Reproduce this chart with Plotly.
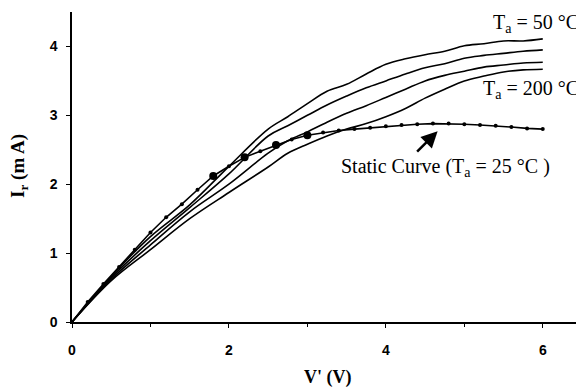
import plotly.graph_objects as go

# Drain voltage (V) sample positions for the pulsed curves
v_pulsed = [0, 0.5, 1.0, 1.5, 2.0, 2.5, 2.75, 3.0, 3.25, 3.5, 3.75, 4.0,
            4.25, 4.5, 4.75, 5.0, 5.25, 5.5, 5.75, 6.0]
i_50 = [0, 0.66, 1.24, 1.70, 2.26, 2.80, 2.98, 3.17, 3.35, 3.45, 3.60, 3.74,
        3.82, 3.88, 3.93, 4.01, 4.04, 4.08, 4.08, 4.11]
i_100 = [0, 0.64, 1.18, 1.66, 2.15, 2.70, 2.85, 3.00, 3.15, 3.28, 3.40, 3.50,
         3.60, 3.69, 3.75, 3.83, 3.87, 3.90, 3.93, 3.95]
i_150 = [0, 0.62, 1.12, 1.60, 2.00, 2.45, 2.63, 2.76, 2.90, 3.03, 3.14, 3.26,
         3.38, 3.50, 3.58, 3.64, 3.70, 3.73, 3.76, 3.77]
i_200 = [0, 0.60, 1.05, 1.50, 1.88, 2.25, 2.45, 2.58, 2.70, 2.80, 2.88, 2.98,
         3.10, 3.25, 3.38, 3.50, 3.57, 3.63, 3.66, 3.67]

# Static curve (Ta = 25 C)
v_static = [0, 0.2, 0.4, 0.6, 0.8, 1.0, 1.2, 1.4, 1.6, 1.8, 2.0, 2.2, 2.4, 2.6,
            2.8, 3.0, 3.2, 3.4, 3.6, 3.8, 4.0, 4.2, 4.4, 4.6, 4.8, 5.0, 5.2,
            5.4, 5.6, 5.8, 6.0]
i_static = [0, 0.29, 0.55, 0.80, 1.05, 1.30, 1.52, 1.71, 1.92, 2.12, 2.26,
            2.39, 2.48, 2.57, 2.65, 2.71, 2.75, 2.78, 2.80, 2.82, 2.84, 2.86,
            2.87, 2.88, 2.88, 2.87, 2.86, 2.85, 2.83, 2.81, 2.80]
big_dot_v = [1.8, 2.2, 2.6, 3.0]
big_dot_i = [2.12, 2.39, 2.57, 2.71]

fig = go.Figure()
line = dict(color="black", width=1.6)
for ys in (i_50, i_100, i_150, i_200):
    fig.add_trace(go.Scatter(x=v_pulsed, y=ys, mode="lines", line=line,
                             line_shape="spline", showlegend=False))
fig.add_trace(go.Scatter(x=v_static, y=i_static, mode="lines+markers",
                         line=dict(color="black", width=1.6),
                         marker=dict(color="black", size=4),
                         showlegend=False))
fig.add_trace(go.Scatter(x=big_dot_v, y=big_dot_i, mode="markers",
                         marker=dict(color="black", size=8),
                         showlegend=False))

serif = "Liberation Serif"
OFF = 8  # default page body margin
W, H = 584 - OFF, 388 - OFF
L, R, T, B = 72 - OFF, 2, 12 - OFF, 66
PW, PH = W - L - R, H - T - B


def px(xp, yp):
    # page pixel -> paper coords
    return (xp - OFF - L) / PW, (H - B - (yp - OFF)) / PH


anns = [
    dict(text="T<sub>a</sub> = 50 °C", xpx=581, ypx=23),
    dict(text="T<sub>a</sub> = 200 °C", xpx=581, ypx=89),
    dict(text="Static Curve (T<sub>a</sub> = 25 °C )", xpx=552, ypx=167),
]
for a in anns:
    xx, yy = px(a["xpx"], a["ypx"])
    fig.add_annotation(
        x=xx, y=yy, xref="paper", yref="paper", xanchor="right", yanchor="middle",
        text=a["text"], showarrow=False,
        font=dict(family=serif, size=20, color="black"))

fig.add_annotation(x=4.66, y=2.77, xref="x", yref="y", text="",
                   showarrow=True, arrowhead=2, arrowsize=1.3, arrowwidth=2.5,
                   arrowcolor="black", ax=-22, ay=22)

# axis titles
xx, yy = px(328, 377)
fig.add_annotation(x=xx, y=yy, xref="paper", yref="paper", text="<b>V' (V)</b>",
                   showarrow=False, xanchor="center", yanchor="middle",
                   font=dict(family=serif, size=18, color="black"))
xx, yy = px(19, 166)
fig.add_annotation(x=xx, y=yy, xref="paper", yref="paper",
                   text="<b>I<sub>r</sub> (m A)</b>", textangle=-90,
                   showarrow=False, xanchor="center", yanchor="middle",
                   font=dict(family=serif, size=19, color="black"))

tickfont = dict(family="Liberation Sans", size=14, color="black", weight="bold")
fig.update_layout(
    width=W, height=H,
    margin=dict(l=L, r=R, t=T, b=B),
    paper_bgcolor="white", plot_bgcolor="white",
    xaxis=dict(range=[0, 6.5], tickvals=[0, 2, 4, 6], ticks="outside",
               ticklen=4, tickwidth=1, tickcolor="black", automargin=False,
               minor=dict(dtick=1, ticks="outside", ticklen=3, tickcolor="black"),
               showline=True, linecolor="black", linewidth=1.5,
               showgrid=False, zeroline=False, ticklabelstandoff=10,
               tickfont=tickfont),
    yaxis=dict(range=[0, 4.5], tickvals=[0, 1, 2, 3, 4], ticks="outside",
               ticklen=4, tickwidth=1, tickcolor="black", automargin=False,
               showline=True, linecolor="black", linewidth=1.5,
               showgrid=False, zeroline=False, ticklabelstandoff=6,
               tickfont=tickfont),
)

fig.write_html("out.html")
